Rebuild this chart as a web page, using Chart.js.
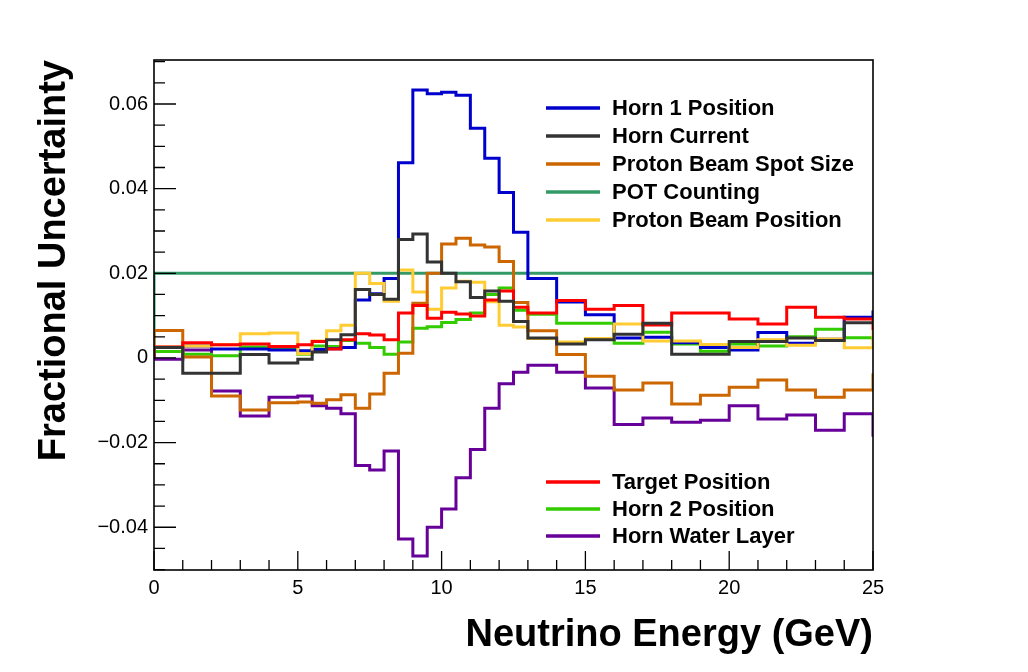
<!DOCTYPE html>
<html>
<head>
<meta charset="utf-8">
<title>Fractional Uncertainty</title>
<script src="https://cdn.jsdelivr.net/npm/chart.js@4.4.1/dist/chart.umd.min.js"></script>
<style>
  html, body { margin: 0; padding: 0; background: #fff; }
  #wrap { width: 1028px; height: 672px; }
</style>
</head>
<body>
<div id="wrap"><canvas id="uncChart" width="1028" height="672"></canvas></div>
<script>
// lower bin edges (GeV); the last entry (25) carries the overflow bin value
const binEdges = [0, 1, 2, 3, 4, 5, 5.5, 6, 6.5, 7, 7.5, 8, 8.5, 9, 9.5, 10, 10.5, 11, 11.5, 12, 12.5,
  13, 14, 15, 16, 17, 18, 19, 20, 21, 22, 23, 24, 25];

const horn1Position = [0.0025, 0.0028, 0.0021, 0.0021, 0.0019, 0.0017, 0.0020, 0.0022, 0.0025, 0.0137, 0.0152,
  0.0188, 0.0461, 0.0633, 0.0624, 0.0628, 0.0621, 0.0543, 0.0472, 0.0391, 0.0297,
  0.0188, 0.0132, 0.0102, 0.0047, 0.0049, 0.0036, 0.0025, 0.0019, 0.0060, 0.0035, 0.0044, 0.0096, 0.0112];
const hornCurrent = [0.0025, -0.0036, -0.0036, 0.0008, -0.0012, -0.0003, 0.0014, 0.0043, 0.0055, 0.0162, 0.0150,
  0.0139, 0.0280, 0.0293, 0.0227, 0.0200, 0.0180, 0.0143, 0.0158, 0.0134, 0.0086,
  0.0047, 0.0033, 0.0043, 0.0056, 0.0082, 0.0009, 0.0009, 0.0039, 0.0039, 0.0047, 0.0041, 0.0083, 0.0083];
const beamSpotSize = [0.0065, 0.0002, -0.0090, -0.0123, -0.0106, -0.0104, -0.0107, -0.0099, -0.0087, -0.0119, -0.0085,
  -0.0036, 0.0011, 0.0129, 0.0200, 0.0269, 0.0283, 0.0267, 0.0262, 0.0228, 0.0131,
  0.0064, 0.0008, -0.0043, -0.0076, -0.0059, -0.0109, -0.0088, -0.0069, -0.0052, -0.0076, -0.0093, -0.0076, -0.0036];
const potCounting = [0.02, 0.02, 0.02, 0.02, 0.02, 0.02, 0.02, 0.02, 0.02, 0.02, 0.02,
  0.02, 0.02, 0.02, 0.02, 0.02, 0.02, 0.02, 0.02, 0.02, 0.02,
  0.02, 0.02, 0.02, 0.02, 0.02, 0.02, 0.02, 0.02, 0.02, 0.02, 0.02, 0.02, 0.02];
const beamPosition = [0.0026, 0.0028, 0.0031, 0.0057, 0.0059, 0.0010, 0.0040, 0.0064, 0.0077, 0.0200, 0.0176,
  0.0134, 0.0208, 0.0156, 0.0115, 0.0165, 0.0181, 0.0179, 0.0133, 0.0077, 0.0073,
  0.0046, 0.0038, 0.0046, 0.0080, 0.0040, 0.0040, 0.0032, 0.0025, 0.0043, 0.0030, 0.0045, 0.0024, 0.0066];
const targetPosition = [0.0026, 0.0036, 0.0031, 0.0033, 0.0027, 0.0031, 0.0039, 0.0021, 0.0043, 0.0057, 0.0054,
  0.0043, 0.0106, 0.0124, 0.0094, 0.0108, 0.0104, 0.0099, 0.0137, 0.0158, 0.0120,
  0.0106, 0.0136, 0.0115, 0.0124, 0.0078, 0.0106, 0.0106, 0.0092, 0.0080, 0.0120, 0.0096, 0.0092, 0.0066];
const horn2Position = [0.0015, 0.0009, 0.0005, 0.0026, 0.0023, 0.0009, 0.0028, 0.0027, 0.0041, 0.0035, 0.0025,
  0.0009, 0.0038, 0.0070, 0.0074, 0.0084, 0.0091, 0.0106, 0.0150, 0.0165, 0.0113,
  0.0103, 0.0082, 0.0082, 0.0035, 0.0061, 0.0033, 0.0016, 0.0033, 0.0028, 0.0050, 0.0068, 0.0048, 0.0042];
const hornWaterLayer = [-0.0003, 0.0019, -0.0078, -0.0137, -0.0093, -0.0090, -0.0113, -0.0119, -0.0132, -0.0254, -0.0265,
  -0.0220, -0.0428, -0.0468, -0.0400, -0.0357, -0.0283, -0.0216, -0.0119, -0.0061, -0.0034,
  -0.0017, -0.0034, -0.0071, -0.0157, -0.0142, -0.0152, -0.0147, -0.0113, -0.0144, -0.0135, -0.0171, -0.0132, -0.0186];

const xTickValues = [0, 5, 10, 15, 20, 25];
const yTickValues = [-0.04, -0.02, 0, 0.02, 0.04, 0.06];

const FONT = '"Liberation Sans", Arial, Helvetica, sans-serif';
const plotArea = { left: 154, right: 873, top: 60, bottom: 570 };

function steps(values) {
  // histogram outline starting from the zero baseline at the first edge
  const pts = [{ x: binEdges[0], y: 0 }];
  binEdges.forEach((e, i) => pts.push({ x: e, y: values[i] }));
  return pts;
}

// legend groups: [dataset index, ...]
const upperLegend = [0, 1, 2, 3, 4];
const lowerLegend = [5, 6, 7];

const series = [
  { label: 'Horn 1 Position', values: horn1Position, color: '#0000cc', order: 5 },
  { label: 'Horn Current', values: hornCurrent, color: '#333333', order: 1 },
  { label: 'Proton Beam Spot Size', values: beamSpotSize, color: '#cc6600', order: 3 },
  { label: 'POT Counting', values: potCounting, color: '#339966', order: 8 },
  { label: 'Proton Beam Position', values: beamPosition, color: '#ffcc33', order: 4 },
  { label: 'Target Position', values: targetPosition, color: '#ff0000', order: 2 },
  { label: 'Horn 2 Position', values: horn2Position, color: '#33cc00', order: 6 },
  { label: 'Horn Water Layer', values: hornWaterLayer, color: '#660099', order: 7 }
];

const framePlugin = {
  id: 'rootFrame',
  afterDatasetsDraw(chart) {
    const { ctx, chartArea: a, scales: { x, y } } = chart;
    ctx.save();
    ctx.strokeStyle = '#000';
    ctx.lineWidth = 1.6;
    ctx.strokeRect(a.left, a.top, a.right - a.left, a.bottom - a.top);
    ctx.lineWidth = 1.3;
    ctx.beginPath();
    for (let k = -10; k <= 14; k++) {
      const v = k * 0.005;
      const py = y.getPixelForValue(v);
      const len = (k % 4 === 0) ? 22 : 11;
      ctx.moveTo(a.left, py);
      ctx.lineTo(a.left + len, py);
    }
    for (let k = 0; k <= 25; k++) {
      const px = x.getPixelForValue(k);
      const len = (k % 5 === 0) ? 19 : 10;
      ctx.moveTo(px, a.bottom);
      ctx.lineTo(px, a.bottom - len);
    }
    ctx.stroke();
    ctx.restore();
  },
  afterDraw(chart) {
    const { ctx } = chart;
    ctx.save();
    // legends
    ctx.font = 'bold 22px ' + FONT;
    ctx.textBaseline = 'middle';
    ctx.textAlign = 'left';
    const drawGroup = (idxs, y0, dy) => {
      idxs.forEach((di, k) => {
        const ds = chart.data.datasets[di];
        const yy = y0 + k * dy;
        ctx.strokeStyle = ds.borderColor;
        ctx.lineWidth = 3.5;
        ctx.beginPath();
        ctx.moveTo(546, yy);
        ctx.lineTo(600, yy);
        ctx.stroke();
        ctx.fillStyle = '#000';
        ctx.fillText(ds.label, 612, yy + 1);
      });
    };
    drawGroup(upperLegend, 108, 28);
    drawGroup(lowerLegend, 482, 27);

    // axis titles
    ctx.fillStyle = '#000';
    ctx.font = 'bold 38px ' + FONT;
    ctx.textBaseline = 'alphabetic';
    ctx.textAlign = 'right';
    ctx.fillText('Neutrino Energy (GeV)', plotArea.right, 646);
    ctx.translate(65, plotArea.top);
    ctx.rotate(-Math.PI / 2);
    ctx.fillText('Fractional Uncertainty', 0, 0);
    ctx.restore();
  }
};

function fmtY(v) {
  if (Math.abs(v) < 1e-9) return '0';
  const s = Math.abs(v).toFixed(2);
  return v < 0 ? '\u2212' + s : s;
}

new Chart(document.getElementById('uncChart'), {
  type: 'line',
  data: {
    datasets: series.map(s => ({
      label: s.label,
      data: steps(s.values),
      borderColor: s.color,
      backgroundColor: s.color,
      borderWidth: 3,
      borderJoinStyle: 'miter',
      borderCapStyle: 'butt',
      stepped: 'before',
      pointRadius: 0,
      fill: false,
      order: s.order
    }))
  },
  options: {
    responsive: false,
    animation: false,
    events: [],
    layout: { padding: { left: 0, top: plotArea.top, right: 1028 - plotArea.right, bottom: 0 } },
    plugins: {
      legend: { display: false },
      tooltip: { enabled: false },
      title: { display: false }
    },
    scales: {
      x: {
        type: 'linear',
        min: 0,
        max: 25,
        grid: { display: false, drawTicks: false },
        border: { display: false },
        afterBuildTicks: s => { s.ticks = xTickValues.map(v => ({ value: v })); },
        afterFit: s => { s.height = 672 - plotArea.bottom; },
        ticks: {
          padding: 6,
          color: '#000',
          font: { family: FONT, size: 20 },
          maxRotation: 0,
          autoSkip: false,
          callback: v => String(v)
        }
      },
      y: {
        type: 'linear',
        min: -0.0501,
        max: 0.0704,
        grid: { display: false, drawTicks: false },
        border: { display: false },
        afterBuildTicks: s => { s.ticks = yTickValues.map(v => ({ value: v })); },
        afterFit: s => { s.width = plotArea.left; },
        ticks: {
          padding: 6,
          color: '#000',
          font: { family: FONT, size: 20 },
          autoSkip: false,
          callback: v => fmtY(v)
        }
      }
    }
  },
  plugins: [framePlugin]
});
</script>
</body>
</html>
